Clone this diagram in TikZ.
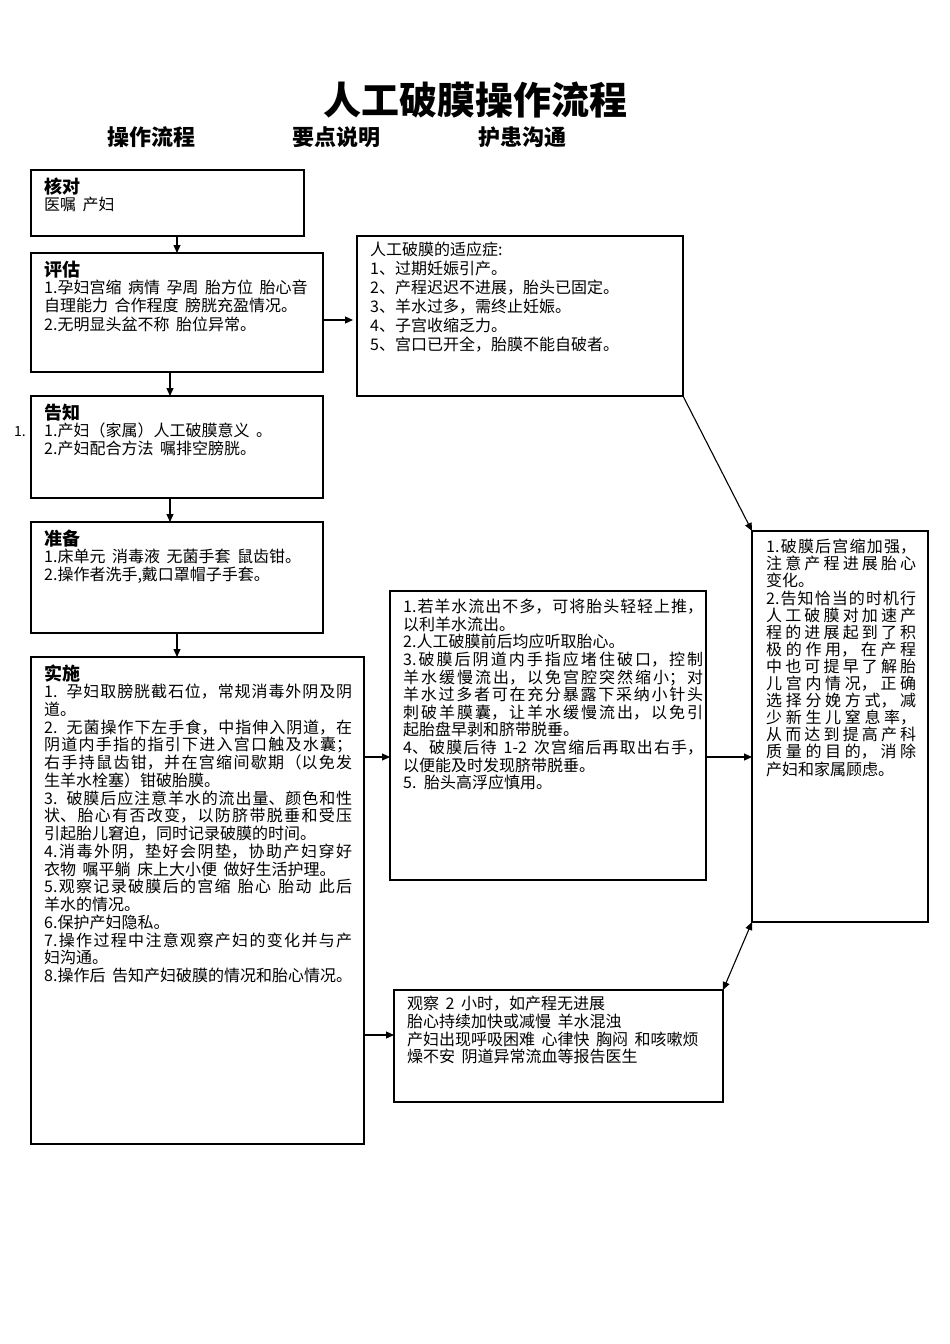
\documentclass[tikz,border=0pt]{standalone}
\usepackage{fontspec}
\setmainfont{Noto Sans CJK SC}
\usetikzlibrary{arrows.meta}
\XeTeXlinebreaklocale "zh"
\XeTeXlinebreakskip=0pt plus 4pt
\newcommand{\hdfont}{\fontsize{18}{20}\selectfont\bfseries}
\newcommand{\loosen}{\tolerance=10000\hbadness=10000\hfuzz=20pt\spaceskip=6.5pt plus 2pt minus 1pt\relax}
\newcommand{\bodyfont}{\fontsize{16}{18.5}\selectfont\loosen}
\newcommand{\bodyfontA}{\fontsize{16}{17.75}\selectfont\loosen}
\newcommand{\bodyfontB}{\fontsize{16}{19}\selectfont\loosen}
\newcommand{\bodyfontC}{\fontsize{16}{17.6}\selectfont\loosen}
\newcommand{\bodyfontD}{\fontsize{16}{17.7}\selectfont\loosen}
\newcommand{\bodyfontE}{\fontsize{16}{17.1}\selectfont\loosen}
\tikzset{
  box/.style={draw, line width=1.1pt, anchor=north west, inner sep=0pt, outer sep=0pt},
  txt/.style={anchor=north west, inner sep=0pt, align=justify, font=\bodyfont},
  arr/.style={line width=1.1pt, -{Triangle[length=8pt,width=7pt]}},
  darr/.style={line width=1.1pt, {Triangle[length=8pt,width=7pt]}-{Triangle[length=8pt,width=7pt]}}
}
\begin{document}
\begin{tikzpicture}[x=1pt,y=-1pt]
\useasboundingbox (0,0) rectangle (950,1344);
% titles
\node (title) at (475,100) {\fontsize{38}{40}\selectfont\bfseries 人工破膜操作流程};
\node (h1) at (151,137) {\fontsize{22}{24}\selectfont\bfseries 操作流程};
\node (h2) at (336,137) {\fontsize{22}{24}\selectfont\bfseries 要点说明};
\node (h3) at (522,137) {\fontsize{22}{24}\selectfont\bfseries 护患沟通};
% boxes
\node[box, minimum width=273pt, minimum height=66pt] (b1) at (31,170) {};
\node[box, minimum width=292pt, minimum height=119pt] (b2) at (31,253) {};
\node[box, minimum width=292pt, minimum height=102pt] (b3) at (31,396) {};
\node[box, minimum width=292pt, minimum height=111pt] (b4) at (31,522) {};
\node[box, minimum width=333pt, minimum height=487pt] (b5) at (31,657) {};
\node[box, minimum width=326pt, minimum height=160pt] (b6) at (357,236) {};
\node[box, minimum width=316pt, minimum height=289pt] (b7) at (390,591) {};
\node[box, minimum width=329pt, minimum height=112pt] (b8) at (394,990) {};
\node[box, minimum width=176pt, minimum height=391pt] (b9) at (752,531) {};
% texts
\node[txt, text width=250pt] (t1) at (44,178) {{\hdfont 核对\par}\vspace{-2pt}医嘱 产妇};
\node[txt, text width=275pt] (t2) at (44,261) {{\hdfont 评估\par}\vspace{-2pt}1.孕妇宫缩 病情 孕周 胎方位 胎心音\\
自理能力 合作程度 膀胱充盈情况。\\
2.无明显头盆不称 胎位异常。};
\node[txt, text width=275pt] (t3) at (44,404) {{\hdfont 告知\par}\vspace{-2pt}1.产妇（家属）人工破膜意义 。\\
2.产妇配合方法 嘱排空膀胱。};
\node[font=\fontsize{14}{16}\selectfont] (lbl) at (20,432) {1.};
\node[txt, text width=275pt] (t4) at (44,530) {{\hdfont 准备\par}\vspace{-2pt}1.床单元 消毒液 无菌手套 鼠齿钳。\\
2.操作者洗手,戴口罩帽子手套。};
\node[txt, text width=308pt, font=\bodyfontA] (t5) at (44,665) {{\hdfont 实施\par}\vspace{-1pt}1. 孕妇取膀胱截石位，常规消毒外阴及阴\linebreak
道。\\
2. 无菌操作下左手食，中指伸入阴道，在\linebreak
阴道内手指的指引下进入宫口触及水囊；\linebreak
右手持鼠齿钳，并在宫缩间歇期（以免发\linebreak
生羊水栓塞）钳破胎膜。\\
3. 破膜后应注意羊水的流出量、颜色和性\linebreak
状、胎心有否改变，以防脐带脱垂和受压\linebreak
引起胎儿窘迫，同时记录破膜的时间。\\
4.消毒外阴，垫好会阴垫，协助产妇穿好\linebreak
\mbox{衣物 嘱平躺 床上大小便 做好生活护理。}\\
5.观察记录破膜后的宫缩 胎心 胎动 此后\linebreak
羊水的情况。\\
6.保护产妇隐私。\\
7.操作过程中注意观察产妇的变化并与产\linebreak
妇沟通。\\
\mbox{8.操作后 告知产妇破膜的情况和胎心情况。}};
\node[txt, text width=300pt, font=\bodyfontB] (t6) at (370,242) {人工破膜的适应症:\\
1、过期妊娠引产。\\
2、产程迟迟不进展，胎头已固定。\\
3、羊水过多，需终止妊娠。\\
4、子宫收缩乏力。\\
5、宫口已开全，胎膜不能自破者。};
\node[txt, text width=300pt, font=\bodyfontC] (t7) at (403,599) {1.若羊水流出不多，可将胎头轻轻上推，\linebreak
以利羊水流出。\\
2.人工破膜前后均应听取胎心。\\
3.破膜后阴道内手指应堵住破口，控制\linebreak
羊水缓慢流出，以免宫腔突然缩小；对\linebreak
羊水过多者可在充分暴露下采纳小针头\linebreak
刺破羊膜囊，让羊水缓慢流出，以免引\linebreak
起胎盘早剥和脐带脱垂。\\
4、破膜后待 1-2 次宫缩后再取出右手，\linebreak
以便能及时发现脐带脱垂。\\
5. 胎头高浮应慎用。};
\node[txt, text width=150pt, font=\bodyfontE] (t9) at (766,539) {1.破膜后宫缩加强，\linebreak
注意产程进展胎心\linebreak
变化。\\
2.告知恰当的时机行\linebreak
人工破膜对加速产\linebreak
程的进展起到了积\linebreak
极的作用，在产程\linebreak
中也可提早了解胎\linebreak
儿宫内情况，正确\linebreak
选择分娩方式，减\linebreak
少新生儿窒息率，\linebreak
从而达到提高产科\linebreak
质量的目的，消除\linebreak
产妇和家属顾虑。};
\node[txt, text width=312pt, font=\bodyfontD] (t8) at (407,996) {观察 2 小时，如产程无进展\\
胎心持续加快或减慢 羊水混浊\\
\mbox{产妇出现呼吸困难 心律快 胸闷 和咳嗽烦}\\
燥不安 阴道异常流血等报告医生};
% connectors
\draw[arr] ([xshift=146pt]b1.south west) -- ([xshift=146pt]b2.north west);
\draw[arr] ([xshift=139pt]b2.south west) -- ([xshift=139pt]b3.north west);
\draw[arr] ([xshift=139pt]b3.south west) -- ([xshift=139pt]b4.north west);
\draw[arr] ([xshift=146pt]b4.south west) -- ([xshift=146pt]b5.north west);
\draw[arr] (b2.east |- 0,320) -- ([xshift=-4pt]b6.west |- 0,320);
\draw[arr] (b6.south east) -- (b9.north west);
\draw[arr] (b5.east |- 0,757) -- (b7.west |- 0,757);
\draw[arr] (b5.east |- 0,1035) -- (b8.west |- 0,1035);
\draw[arr] (b7.east |- 0,757) -- (b9.west |- 0,757);
\draw[darr] (b8.north east) -- (b9.south west);
\end{tikzpicture}
\end{document}
